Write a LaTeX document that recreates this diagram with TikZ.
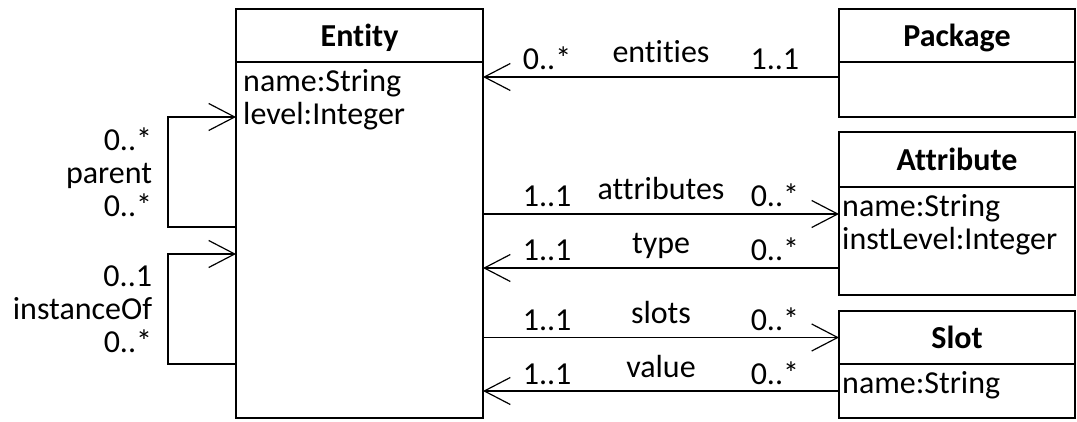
\documentclass[tikz,border=0pt]{standalone}
\usepackage{fontspec}
\setmainfont{Carlito}[Ligatures=NoCommon]
\usetikzlibrary{arrows.meta,positioning}

\tikzset{
	txt/.style={font=\fontsize{32}{33}\selectfont},
	classhead/.style={draw, line width=2.4pt, minimum height=53pt, inner sep=0pt, outer sep=0pt,
		text height=22pt, text depth=0pt, font=\fontsize{32}{33}\selectfont\bfseries},
	classbody/.style={draw, line width=2.4pt, inner sep=0pt, outer sep=0pt},
	attrs/.style={txt, anchor=north west, align=left, inner xsep=7pt, inner ysep=7pt},
	assoc/.style={line width=1.2pt, -{Straight Barb[length=26pt,width=27pt]}},
	role/.style={txt, anchor=base, yshift=14pt, inner sep=0pt},
	mult/.style={txt, anchor=base, yshift=7pt, inner sep=0pt},
}

\begin{document}
\begin{tikzpicture}[x=1pt,y=-1pt]
	\useasboundingbox (0,0) rectangle (1077,422);
	
	%classes
	\node[classhead, minimum width=247pt] (entity) at (359.5,35.5) {Entity};
	\node[classbody, minimum width=247pt, minimum height=356pt, below=0pt of entity] (entitybody) {};
	\node[attrs] (entityattrs) at (entitybody.north west) {name:String\\level:Integer};
	%
	\node[classhead, minimum width=236pt] (package) at (957,35.5) {Package};
	\node[classbody, minimum width=236pt, minimum height=55pt, below=0pt of package] (packagebody) {};
	%
	\node[classhead, minimum width=236pt, minimum height=55pt] (attribute) at (957,159.5) {Attribute};
	\node[classbody, minimum width=236pt, minimum height=108pt, below=0pt of attribute] (attributebody) {};
	\node[attrs, inner xsep=3pt] (attributeattrs) at (attributebody.north west) {name:String\\instLevel:Integer};
	%
	\node[classhead, minimum width=236pt] (slot) at (957,337.5) {Slot};
	\node[classbody, minimum width=236pt, minimum height=54pt, below=0pt of slot] (slotbody) {};
	\node[attrs, inner xsep=3pt] (slotattrs) at (slotbody.north west) {name:String};
	
	%ports
	\coordinate (packageport) at ([yshift=12.5pt]packagebody.west);
	\coordinate (attrin) at ([yshift=27pt]attributebody.west);
	\coordinate (attrout) at ([yshift=-27pt]attributebody.west);
	
	%associations
	\draw[assoc] (packageport) -- node[role] {entities}
		node[mult, pos=0.18] {1..1} node[mult, pos=0.82] {0..*} (packageport -| entitybody.east);
	\draw[assoc] (attrin -| entitybody.east) -- node[role] {attributes}
		node[mult, pos=0.18] {1..1} node[mult, pos=0.82] {0..*} (attrin);
	\draw[assoc] (attrout) -- node[role] {type}
		node[mult, pos=0.18] {0..*} node[mult, pos=0.82] {1..1} (attrout -| entitybody.east);
	\draw[assoc] (slot.west -| entitybody.east) -- node[role] {slots}
		node[mult, pos=0.18] {1..1} node[mult, pos=0.82] {0..*} (slot.west);
	\draw[assoc] (slotbody.west) -- node[role] {value}
		node[mult, pos=0.18] {0..*} node[mult, pos=0.82] {1..1} (slotbody.west -| entitybody.east);
	
	%self loops
	\draw[assoc] ([yshift=13pt]entitybody.west) -- ++(-68pt,0)
		|- node[txt, pos=0.25, left=12pt, align=right] {0..*\\parent\\0..*} ([yshift=123pt]entitybody.west);
	\draw[assoc] ([yshift=-124pt]entitybody.west) -- ++(-68pt,0)
		|- node[txt, pos=0.25, left=12pt, align=right] {0..1\\instanceOf\\0..*} ([yshift=-14pt]entitybody.west);
\end{tikzpicture}
\end{document}
